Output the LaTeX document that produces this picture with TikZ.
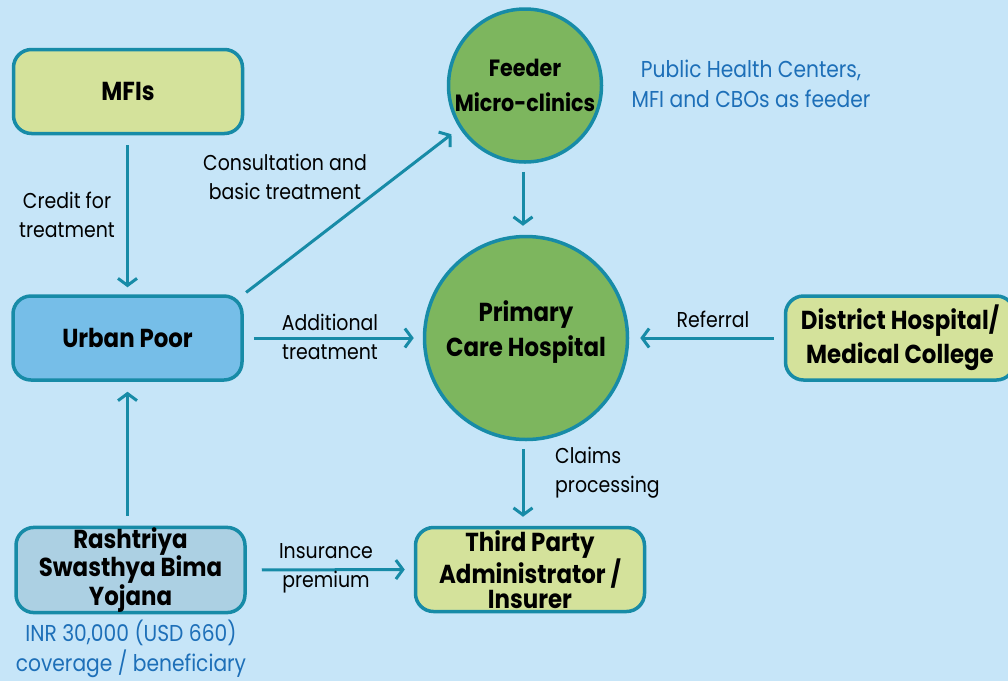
\documentclass[tikz,border=0pt]{standalone}
\usepackage{fontspec}
\setmainfont{Poppins}[FakeStretch=0.88]
\usetikzlibrary{arrows.meta}

\definecolor{bgblue}{HTML}{C6E5F8}
\definecolor{teal}{HTML}{178BA7}
\definecolor{lightgreen}{HTML}{D4E29B}
\definecolor{midgreen}{HTML}{7DB65E}
\definecolor{urbanblue}{HTML}{76BEE8}
\definecolor{schemeblue}{HTML}{ACD0E3}
\definecolor{notetext}{HTML}{1D6FB8}

\tikzset{
  box/.style={draw=teal, line width=3.5pt, rounded corners=18pt,
    minimum width=229pt, minimum height=84pt, align=center,
    font=\fontsize{26}{25}\selectfont\bfseries, inner sep=0pt},
  hub/.style={circle, draw=teal, fill=midgreen, line width=3.5pt,
    align=center, inner sep=0pt, font=\fontsize{26}{35}\selectfont\bfseries},
  flow/.style={draw=teal, line width=3pt,
    -{Straight Barb[length=7pt,width=19pt,line width=3pt]}},
  lbl/.style={align=center, font=\fontsize{21.5}{29}\selectfont, inner sep=0pt},
  note/.style={align=center, text=notetext, font=\fontsize{23}{30}\selectfont, inner sep=0pt}
}

\begin{document}
\begin{tikzpicture}[x=1pt,y=-1pt]
\useasboundingbox (0,0) rectangle (1008,681);
\fill[bgblue] (0,0) rectangle (1008,681);

% organisations
\node[box, fill=lightgreen] (mfi) at (128,91.5) {MFIs};
\node[box, fill=urbanblue] (up) at (127.5,338) {Urban Poor};
\node[box, fill=schemeblue] (rsby) at (130.5,570) {Rashtriya\\Swasthya Bima\\Yojana};
\node[box, fill=lightgreen] (tpa) at (530,569.5) {Third Party\\Administrator /\\Insurer};
\node[box, fill=lightgreen, font=\fontsize{26}{34}\selectfont\bfseries] (dh) at (900,338) {District Hospital/\\Medical College};

% health facilities
\node[hub, minimum size=153pt, font=\fontsize{23.5}{35}\selectfont\bfseries] (feeder) at (525,85.5) {Feeder\\Micro-clinics};
\node[hub, minimum size=203pt] (pch) at (526,338) {Primary\\Care Hospital\\[-16pt]};

% flows
\draw[flow, shorten <=10pt, shorten >=7pt] (up.north |- mfi.south) -- (up.north);
\draw[flow, shorten <=3pt, shorten >=10pt] (up.north east) -- (feeder.213);
\draw[flow, shorten <=10pt, shorten >=9pt] (up.east) -- (pch.west);
\draw[flow, shorten <=8pt, shorten >=9pt] ([xshift=-2pt]feeder.south) -- ([xshift=-2pt]feeder.south |- pch.north);
\draw[flow, shorten <=10pt, shorten >=11pt] (dh.west) -- (pch.east);
\draw[flow, shorten <=8pt, shorten >=9pt] ([xshift=-3pt]pch.south) -- ([xshift=-3pt]pch.south |- tpa.north);
\draw[flow, shorten <=10pt, shorten >=10pt] (up.south |- rsby.north) -- (up.south);
\draw[flow, shorten <=15pt, shorten >=9pt] (rsby.east) -- (tpa.west);

% flow labels
\node[lbl] (l1) at (67,214.5) {Credit for\\treatment};
\node[lbl] (l2) at (285,176.5) {Consultation and\\basic treatment};
\node[lbl] (l3) at (330,336.5) {Additional\\treatment};
\node[lbl] (l4) at (713,319) {Referral};
\node[lbl, align=left, anchor=west] (l5) at (555,472.5) {Claims\\processing};
\node[lbl] (l6) at (326,568.5) {Insurance\\premium};

% notes
\node[note] (n1) at (751,83.5) {Public Health Centers,\\MFI and CBOs as feeder};
\node[note] (n2) at (131,649) {INR 30,000 (USD 660)\\coverage / beneficiary};
\end{tikzpicture}
\end{document}
